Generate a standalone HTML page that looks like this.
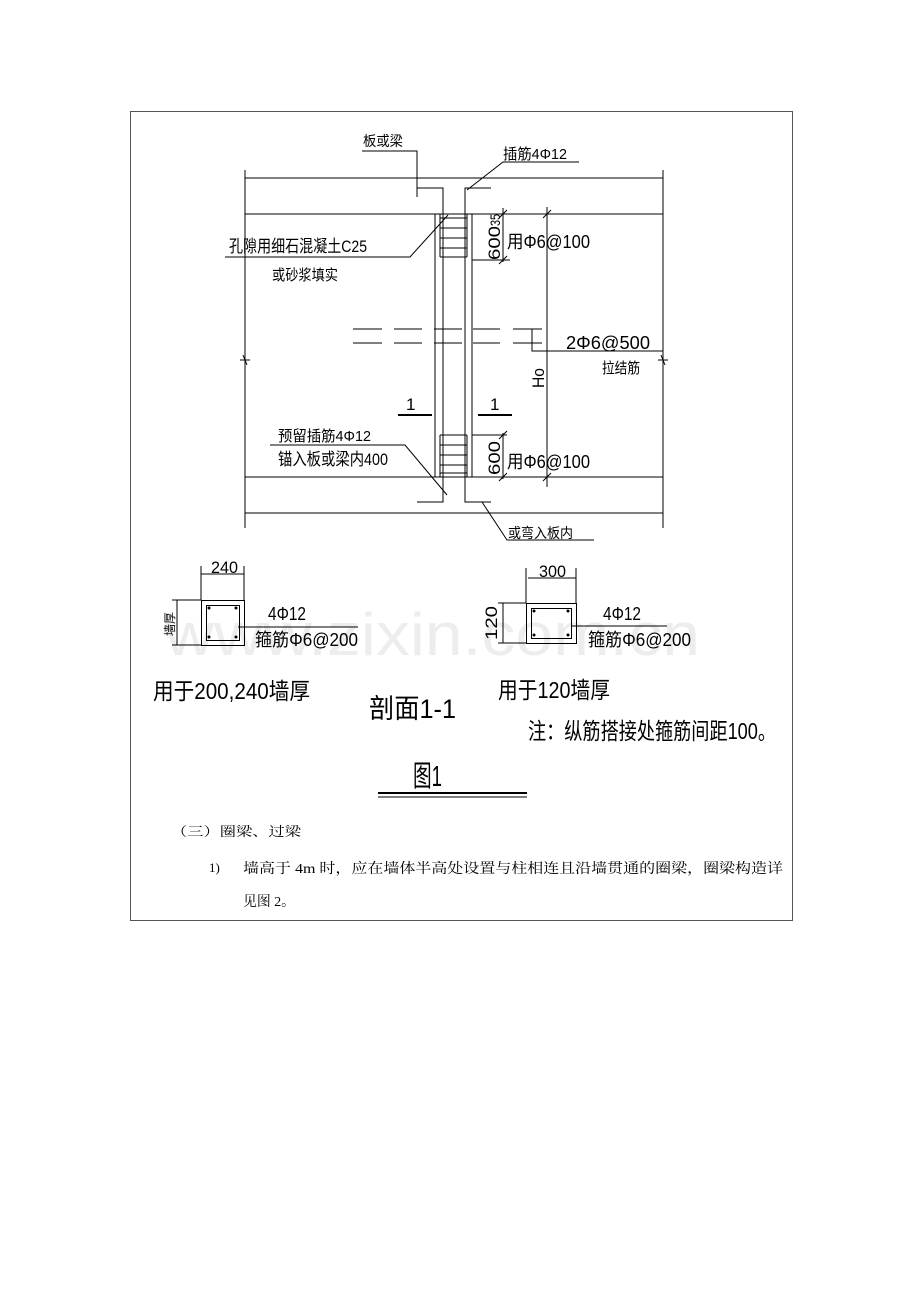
<!DOCTYPE html>
<html><head><meta charset="utf-8"><style>
html,body{margin:0;padding:0;background:#fff;width:920px;height:1302px;overflow:hidden}
svg{display:block}
text{font-family:"Liberation Sans","Noto Sans CJK SC",sans-serif;fill:#000}
.s{font-family:"Liberation Serif","Noto Serif CJK SC",serif}
</style></head><body>
<svg width="920" height="1302" viewBox="0 0 920 1302" xmlns="http://www.w3.org/2000/svg">
<text x="165" y="655" font-size="60" textLength="535" lengthAdjust="spacingAndGlyphs" style="fill:#ededed">www.zixin.com.cn</text>
<g stroke="#000" stroke-width="1" fill="none">
<rect x="130.5" y="111.5" width="662" height="809" stroke="#555"/>
<line x1="245" y1="170" x2="245" y2="528"/>
<line x1="663" y1="170" x2="663" y2="528"/>
<polyline points="240,360 245,360 243,355 247,365 245,360 250,360"/>
<polyline points="658,360 663,360 661,355 665,365 663,360 668,360"/>
<line x1="245" y1="178" x2="663" y2="178"/>
<line x1="245" y1="214" x2="663" y2="214"/>
<line x1="245" y1="477" x2="663" y2="477"/>
<line x1="245" y1="513" x2="663" y2="513"/>
<line x1="435" y1="214" x2="435" y2="477"/>
<line x1="472" y1="214" x2="472" y2="477"/>
<polyline points="417,188 443,188 443,502 417,502"/>
<polyline points="491,188 465,188 465,502 491,502"/>
<line x1="440" y1="214" x2="440" y2="257"/><line x1="467" y1="214" x2="467" y2="257"/>
<line x1="440" y1="435" x2="440" y2="477"/><line x1="467" y1="435" x2="467" y2="477"/>
<path d="M440 218H467M440 228H467M440 238H467M440 248H467M440 257H467"/>
<path d="M440 435H467M440 445H467M440 455H467M440 465H467M440 473H467"/>
<polyline points="362,151 417,151 417,197"/>
<polyline points="579,162 503,162 467,190"/>
<polyline points="225,257 410,257 448,215"/>
<polyline points="270,445 405,445 447,495"/>
<polyline points="482,502 507,540 594,540"/>
<line x1="503" y1="208" x2="503" y2="262"/>
<line x1="472" y1="214" x2="510" y2="214"/>
<line x1="472" y1="260" x2="510" y2="260"/>
<line x1="499" y1="218" x2="507" y2="210"/><line x1="499" y1="264" x2="507" y2="256"/>
<line x1="503" y1="433" x2="503" y2="479"/>
<line x1="472" y1="435" x2="507" y2="435"/>
<line x1="499" y1="439" x2="507" y2="431"/><line x1="499" y1="481" x2="507" y2="473"/>
<line x1="547" y1="207" x2="547" y2="487"/>
<line x1="543" y1="218" x2="551" y2="210"/><line x1="543" y1="481" x2="551" y2="473"/>
<path d="M353 329H382M394 329H422M434 329H462M473 329H500M513 329H542"/>
<path d="M353 343H382M394 343H422M434 343H462M473 343H500M513 343H542"/>
<polyline points="532,329 532,351 663,351"/>
<line x1="398" y1="415" x2="432" y2="415" stroke-width="2"/>
<line x1="478" y1="415" x2="512" y2="415" stroke-width="2"/>
<line x1="201" y1="574" x2="244" y2="574"/>
<line x1="201" y1="566" x2="201" y2="600"/><line x1="244" y1="566" x2="244" y2="600"/>
<rect x="201.5" y="600.5" width="43" height="45"/>
<rect x="206.5" y="605.5" width="33" height="35"/>
<line x1="177" y1="600" x2="177" y2="645"/>
<line x1="172" y1="600" x2="201" y2="600"/><line x1="172" y1="645" x2="201" y2="645"/>
<line x1="238" y1="627" x2="358" y2="627"/>
<line x1="528" y1="578" x2="576" y2="578"/>
<line x1="526" y1="568" x2="526" y2="603"/><line x1="576" y1="568" x2="576" y2="603"/>
<rect x="526.5" y="603.5" width="50" height="40"/>
<rect x="531.5" y="608.5" width="40" height="30"/>
<line x1="503" y1="603" x2="503" y2="643"/>
<line x1="498" y1="603" x2="526" y2="603"/><line x1="498" y1="643" x2="526" y2="643"/>
<line x1="571" y1="626" x2="667" y2="626"/>
<line x1="378" y1="793" x2="527" y2="793" stroke-width="2"/>
<line x1="378" y1="797" x2="527" y2="797"/>
</g>
<g fill="#000">
<circle cx="209" cy="608" r="1.5"/><circle cx="236" cy="608" r="1.5"/><circle cx="209" cy="637" r="1.5"/><circle cx="236" cy="637" r="1.5"/>
<circle cx="534" cy="611" r="1.5"/><circle cx="568" cy="611" r="1.5"/><circle cx="534" cy="635" r="1.5"/><circle cx="568" cy="635" r="1.5"/>
</g>
<text x="363" y="146" font-size="14" textLength="40" lengthAdjust="spacingAndGlyphs">板或梁</text>
<text x="503" y="159" font-size="15" textLength="64" lengthAdjust="spacingAndGlyphs">插筋4Φ12</text>
<text x="229" y="252" font-size="17" textLength="138" lengthAdjust="spacingAndGlyphs">孔隙用细石混凝土C25</text>
<text x="272" y="280" font-size="15" textLength="66" lengthAdjust="spacingAndGlyphs">或砂浆填实</text>
<text x="507" y="248" font-size="18" textLength="83" lengthAdjust="spacingAndGlyphs">用Φ6@100</text>
<text x="507" y="468" font-size="18" textLength="83" lengthAdjust="spacingAndGlyphs">用Φ6@100</text>
<text transform="translate(500,260) rotate(-90)" font-size="17" textLength="34" lengthAdjust="spacingAndGlyphs">600</text>
<text transform="translate(500,226) rotate(-90)" font-size="14" textLength="12" lengthAdjust="spacingAndGlyphs">35</text>
<text transform="translate(500,475) rotate(-90)" font-size="17" textLength="34" lengthAdjust="spacingAndGlyphs">600</text>
<text transform="translate(544,388) rotate(-90)" font-size="17" textLength="20" lengthAdjust="spacingAndGlyphs">Ho</text>
<text x="566" y="349" font-size="18" textLength="84" lengthAdjust="spacingAndGlyphs">2Φ6@500</text>
<text x="602" y="373" font-size="15" textLength="38" lengthAdjust="spacingAndGlyphs">拉结筋</text>
<text x="406" y="410" font-size="17">1</text>
<text x="490" y="410" font-size="17">1</text>
<text x="278" y="441" font-size="15" textLength="93" lengthAdjust="spacingAndGlyphs">预留插筋4Φ12</text>
<text x="278" y="465" font-size="17" textLength="110" lengthAdjust="spacingAndGlyphs">锚入板或梁内400</text>
<text x="508" y="538" font-size="14" textLength="65" lengthAdjust="spacingAndGlyphs">或弯入板内</text>
<text x="211" y="573" font-size="17" textLength="27" lengthAdjust="spacingAndGlyphs">240</text>
<text x="539" y="577" font-size="17" textLength="27" lengthAdjust="spacingAndGlyphs">300</text>
<text transform="translate(174,636) rotate(-90)" font-size="12" textLength="24" lengthAdjust="spacingAndGlyphs">墙厚</text>
<text transform="translate(497,640) rotate(-90)" font-size="17" textLength="34" lengthAdjust="spacingAndGlyphs">120</text>
<text x="268" y="620" font-size="18" textLength="38" lengthAdjust="spacingAndGlyphs">4Φ12</text>
<text x="255" y="646" font-size="18" textLength="103" lengthAdjust="spacingAndGlyphs">箍筋Φ6@200</text>
<text x="603" y="620" font-size="18" textLength="38" lengthAdjust="spacingAndGlyphs">4Φ12</text>
<text x="588" y="646" font-size="18" textLength="103" lengthAdjust="spacingAndGlyphs">箍筋Φ6@200</text>
<text x="153" y="699" font-size="23" textLength="157" lengthAdjust="spacingAndGlyphs">用于200,240墙厚</text>
<text x="369" y="718" font-size="27" textLength="87" lengthAdjust="spacingAndGlyphs">剖面1-1</text>
<text x="498" y="698" font-size="23" textLength="112" lengthAdjust="spacingAndGlyphs">用于120墙厚</text>
<text x="528" y="739" font-size="23" textLength="248" lengthAdjust="spacingAndGlyphs">注：纵筋搭接处箍筋间距100。</text>
<text x="413" y="786" font-size="29" textLength="29" lengthAdjust="spacingAndGlyphs">图1</text>
<text class="s" x="171" y="836" font-size="13" textLength="130" lengthAdjust="spacingAndGlyphs">（三）圈梁、过梁</text>
<text class="s" x="209" y="872" font-size="13">1)</text>
<text class="s" x="243" y="873" font-size="14" textLength="540" lengthAdjust="spacingAndGlyphs">墙高于 4m 时，应在墙体半高处设置与柱相连且沿墙贯通的圈梁，圈梁构造详</text>
<text class="s" x="243" y="906" font-size="14" textLength="52" lengthAdjust="spacingAndGlyphs">见图 2。</text>
</svg>
</body></html>
